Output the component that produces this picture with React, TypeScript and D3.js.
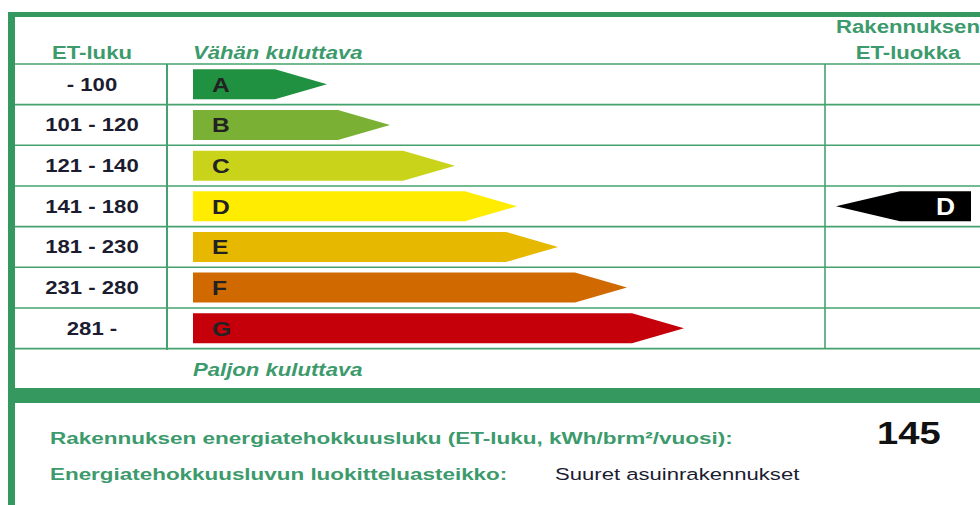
import React from "react";
import * as d3 from "d3";

// energy classes, ET-luku ranges and arrow lengths (kWh/brm²/vuosi scale drawn as arrow length)
const classes = ["A", "B", "C", "D", "E", "F", "G"];
const rangeLabels = ["- 100", "101 - 120", "121 - 140", "141 - 180", "181 - 230", "231 - 280", "281 -"];
const thresholds = [101, 121, 141, 181, 231, 281];
const arrowLengths = [134, 197, 262, 324, 365, 434, 491];
const classColors = ["#1f9140", "#7ab034", "#c9d31a", "#ffec00", "#e6b800", "#d06a00", "#c5000b"];

const etLuku = 145;
const scaleName = "Suuret asuinrakennukset";

const W = 980;
const H = 505;
const GREEN = "#35995f";
const LINE = "#45a26e";
const TXT_GREEN = "#3c9a6c";
const DARK = "#1c1c30";
const SX = 1.23; // the label is horizontally stretched

function T({ x, y, size, weight = "bold", italic = false, fill, anchor = "start", sx = SX, children }: any) {
  return (
    <text
      transform={`translate(${x},${y}) scale(${sx},1)`}
      fontFamily="'Liberation Sans', Arial, sans-serif"
      fontSize={size}
      fontWeight={weight}
      fontStyle={italic ? "italic" : "normal"}
      fill={fill}
      textAnchor={anchor}
    >
      {children}
    </text>
  );
}

export default function App() {
  const y = d3.scaleBand<string>().domain(classes).range([64, 348.6]).paddingInner(0.262).paddingOuter(0.131);
  const step = y.step();
  const x = d3.scaleLinear().domain([0, d3.max(arrowLengths) as number]).range([193, 684]);
  const toClass = d3.scaleThreshold<number, string>().domain(thresholds).range(classes);
  const cls = toClass(etLuku);
  const head = 52;
  const bw = y.bandwidth();

  const rowLines = d3.range(classes.length + 1).map((i) => 64 + i * step);

  const iy = y(cls) as number;
  const tipX = 836;
  const ind = `M${tipX},${iy + bw / 2} L${tipX + 64},${iy} L971,${iy} L971,${iy + bw} L${tipX + 64},${iy + bw} Z`;

  return (
    <svg width={W} height={H} style={{ position: "absolute", left: 0, top: 0, background: "#fff" }}>
      <rect width={W} height={H} fill="#fff" />
      {/* frame */}
      <rect x={8} y={12} width={W - 8} height={5} fill={GREEN} />
      <rect x={8} y={12} width={7} height={H - 12} fill={GREEN} />
      <rect x={8} y={388} width={W - 8} height={15} fill={GREEN} />

      {/* grid */}
      {rowLines.map((ly, i) => (
        <line key={i} x1={15} x2={W} y1={ly} y2={ly} stroke={LINE} strokeWidth={1.6} />
      ))}
      <line x1={167} x2={167} y1={64} y2={350} stroke={LINE} strokeWidth={2} />
      <line x1={825} x2={825} y1={64} y2={348.6} stroke={LINE} strokeWidth={1.6} />

      {/* headers */}
      <T x={92} y={59} size={18} fill={TXT_GREEN} anchor="middle">ET-luku</T>
      <T x={193} y={59} size={18} italic fill={TXT_GREEN}>Vähän kuluttava</T>
      <T x={908} y={33} size={18} fill={TXT_GREEN} anchor="middle">Rakennuksen</T>
      <T x={908} y={59} size={18} fill={TXT_GREEN} anchor="middle">ET-luokka</T>

      {/* rows */}
      {classes.map((c, i) => {
        const top = y(c) as number;
        const end = x(arrowLengths[i]);
        const d = `M${x(0)},${top} L${end - head},${top} L${end},${top + bw / 2} L${end - head},${top + bw} L${x(0)},${top + bw} Z`;
        return (
          <g key={c}>
            <T x={92} y={top + bw / 2 + 6.5} size={18} fill={DARK} anchor="middle">{rangeLabels[i]}</T>
            <path d={d} fill={classColors[i]} />
            <T x={212} y={top + bw / 2 + 7.5} size={20} fill="#222">{c}</T>
          </g>
        );
      })}

      {/* building's class */}
      <path d={ind} fill="#000" />
      <T x={936} y={iy + bw / 2 + 8.5} size={24} sx={1.1} fill="#fff">{cls}</T>

      <T x={193} y={376} size={18} italic fill={TXT_GREEN}>Paljon kuluttava</T>

      {/* bottom info */}
      <T x={50} y={444} size={17} sx={1.325} fill={TXT_GREEN}>Rakennuksen energiatehokkuusluku (ET-luku, kWh/brm²/vuosi):</T>
      <T x={877} y={444} size={31} fill="#111">{etLuku}</T>
      <T x={50} y={480} size={17} sx={1.32} fill={TXT_GREEN}>Energiatehokkuusluvun luokitteluasteikko:</T>
      <T x={555} y={480} size={17} sx={1.3} weight="normal" fill={DARK}>{scaleName}</T>
    </svg>
  );
}
